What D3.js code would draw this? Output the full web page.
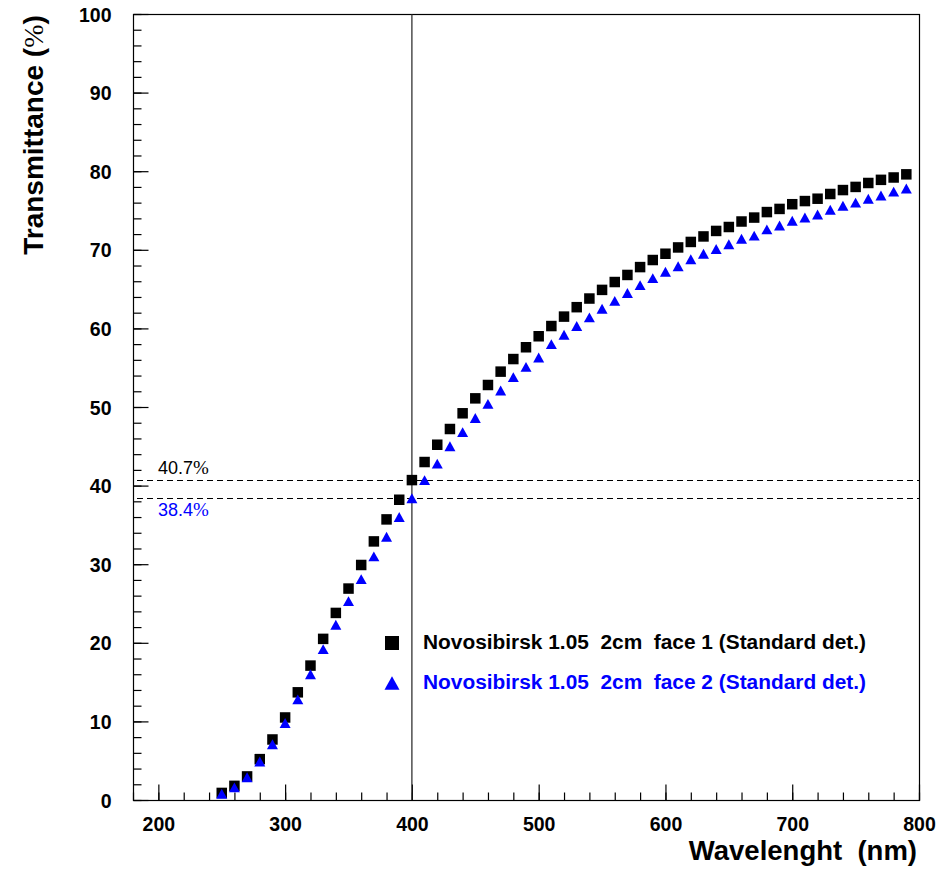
<!DOCTYPE html>
<html>
<head>
<meta charset="utf-8">
<script src="https://cdn.jsdelivr.net/npm/d3@7"></script>
<style>
  html, body { margin: 0; padding: 0; background: #fff; }
  svg { display: block; }
  text { font-family: "Liberation Sans", Arial, sans-serif; }
</style>
</head>
<body>
<svg id="chart" width="941" height="869"></svg>
<script>
// Wavelength grid (nm)
const wavelengths = [250,260,270,280,290,300,310,320,330,340,350,360,370,380,390,400,
  410,420,430,440,450,460,470,480,490,500,510,520,530,540,550,560,570,580,590,600,
  610,620,630,640,650,660,670,680,690,700,710,720,730,740,750,760,770,780,790];

// Transmittance (%) – face 1
const face1 = [0.9,1.8,3.0,5.2,7.7,10.5,13.7,17.1,20.5,23.8,26.9,29.9,32.9,35.7,38.2,40.7,
  43.0,45.2,47.2,49.2,51.1,52.8,54.5,56.1,57.6,59.0,60.3,61.5,62.7,63.8,64.9,65.9,66.8,67.8,68.7,69.5,
  70.3,71.0,71.7,72.4,72.9,73.6,74.1,74.8,75.2,75.8,76.2,76.5,77.1,77.6,78.0,78.5,78.9,79.2,79.6];

// Transmittance (%) – face 2
const face2 = [0.8,1.6,2.9,4.9,7.1,9.8,12.8,16.0,19.2,22.3,25.3,28.1,31.0,33.5,36.0,38.4,
  40.7,42.8,45.0,46.8,48.6,50.4,52.1,53.8,55.1,56.3,58.0,59.2,60.3,61.4,62.5,63.5,64.5,65.5,66.4,67.2,
  67.9,68.8,69.5,70.1,70.7,71.4,71.8,72.6,73.1,73.7,74.1,74.5,75.1,75.6,76.0,76.5,76.9,77.4,77.8];

const seriesNames = [
  "Novosibirsk 1.05  2cm  face 1 (Standard det.)",
  "Novosibirsk 1.05  2cm  face 2 (Standard det.)"
];

// Reference wavelength and the transmittance read at it
const refWavelength = 400;
const refValues = [40.7, 38.4];

const xMajorTicks = [200, 300, 400, 500, 600, 700, 800];
const yMajorTicks = [0, 10, 20, 30, 40, 50, 60, 70, 80, 90, 100];

const svg = d3.select("#chart");
const frame = { left: 133, right: 919, top: 14, bottom: 800 };

const x = d3.scaleLinear().domain([180, 800]).range([frame.left, frame.right]);
const y = d3.scaleLinear().domain([0, 100]).range([frame.bottom, frame.top]);

const BLUE = "#0000ff";

// Frame
svg.append("rect")
  .attr("x", frame.left + 0.5).attr("y", frame.top + 0.5)
  .attr("width", frame.right - frame.left).attr("height", frame.bottom - frame.top)
  .attr("fill", "none").attr("stroke", "#000").attr("stroke-width", 1.2);

// Axes: minor ticks (no labels) then major ticks with labels, pointing inward
const xMinor = d3.range(180, 801, 20);
const yMinor = d3.range(0, 101, 2);

const gxMinor = svg.append("g").attr("transform", `translate(0,${frame.bottom + 0.5})`)
  .call(d3.axisBottom(x).tickValues(xMinor).tickSizeInner(-8).tickSizeOuter(0).tickFormat(""));
const gx = svg.append("g").attr("transform", `translate(0,${frame.bottom + 0.5})`)
  .call(d3.axisBottom(x).tickValues(xMajorTicks).tickSizeInner(-16).tickSizeOuter(0).tickPadding(10));

const gyMinor = svg.append("g").attr("transform", `translate(${frame.left + 0.5},0)`)
  .call(d3.axisLeft(y).tickValues(yMinor).tickSizeInner(-8).tickSizeOuter(0).tickFormat(""));
const gy = svg.append("g").attr("transform", `translate(${frame.left + 0.5},0)`)
  .call(d3.axisLeft(y).tickValues(yMajorTicks).tickSizeInner(-15).tickSizeOuter(0).tickPadding(22));

[gxMinor, gx, gyMinor, gy].forEach(g => {
  g.select(".domain").remove();
  g.selectAll(".tick line").attr("stroke", "#000").attr("stroke-width", 1.2);
});

gx.selectAll(".tick text")
  .attr("font-family", "'Liberation Sans', Arial, sans-serif")
  .attr("font-size", 19.5).attr("font-weight", "bold").attr("fill", "#000")
  .attr("dy", "1.05em");
gy.selectAll(".tick text")
  .attr("font-family", "'Liberation Sans', Arial, sans-serif")
  .attr("font-size", 19.5).attr("font-weight", "bold").attr("fill", "#000")
  .attr("dy", "0.36em");

// Axis titles
svg.append("text")
  .attr("x", 917).attr("y", 860)
  .attr("text-anchor", "end")
  .attr("font-size", 27.5).attr("font-weight", "bold")
  .style("white-space", "pre")
  .text("Wavelenght  (nm)");

const yTitle = svg.append("text")
  .attr("transform", "translate(43,135) rotate(-90)")
  .attr("text-anchor", "middle")
  .attr("font-size", 28).attr("font-weight", "bold");
yTitle.append("tspan").text("Transmittance (");
yTitle.append("tspan").attr("font-family", "'Liberation Serif', serif").attr("font-weight", "normal").text("%");
yTitle.append("tspan").text(")");

// Reference lines
svg.append("line")
  .attr("x1", x(refWavelength)).attr("x2", x(refWavelength))
  .attr("y1", frame.top).attr("y2", frame.bottom)
  .attr("stroke", "#222").attr("stroke-width", 1.2);

refValues.forEach(v => {
  svg.append("line")
    .attr("x1", frame.left + 4).attr("x2", frame.right)
    .attr("y1", Math.round(y(v)) + 0.5).attr("y2", Math.round(y(v)) + 0.5)
    .attr("stroke", "#000").attr("stroke-width", 1)
    .attr("stroke-dasharray", "6,4");
});

// Value annotations
const annColors = ["#000", BLUE];
const annY = [y(refValues[0]) - 6, y(refValues[1]) + 18];
refValues.forEach((v, i) => {
  const t = svg.append("text")
    .attr("x", 158).attr("y", annY[i])
    .attr("font-size", 18).attr("fill", annColors[i]);
  t.append("tspan").text(v.toFixed(1));
  t.append("tspan").attr("font-family", "'Liberation Serif', serif").attr("font-size", 19).text("%");
});

// Marker shapes
const sq = s => `M${-s/2},${-s/2}h${s}v${s}h${-s}Z`;
const tri = s => `M0,${-s*0.45}L${s/2},${s*0.45}L${-s/2},${s*0.45}Z`;

// Face 1: black squares
svg.append("g").selectAll("path")
  .data(wavelengths.map((w, i) => [w, face1[i]]))
  .join("path")
  .attr("transform", d => `translate(${x(d[0])},${y(d[1])})`)
  .attr("d", sq(10.5))
  .attr("fill", "#000");

// Face 2: blue triangles
svg.append("g").selectAll("path")
  .data(wavelengths.map((w, i) => [w, face2[i]]))
  .join("path")
  .attr("transform", d => `translate(${x(d[0])},${y(d[1])})`)
  .attr("d", tri(11))
  .attr("fill", BLUE);

// Legend
const legend = svg.append("g");
const legendRows = [
  { y: 643, color: "#000", shape: sq(14) },
  { y: 683, color: BLUE, shape: tri(15) }
];
legendRows.forEach((r, i) => {
  legend.append("path")
    .attr("transform", `translate(392,${r.y})`)
    .attr("d", r.shape).attr("fill", r.color);
  legend.append("text")
    .attr("x", 423).attr("y", r.y + 6)
    .attr("font-size", 19.5).attr("font-weight", "bold")
    .attr("fill", r.color)
    .attr("textLength", 443).attr("lengthAdjust", "spacingAndGlyphs")
    .style("white-space", "pre")
    .text(seriesNames[i]);
});
</script>
</body>
</html>
